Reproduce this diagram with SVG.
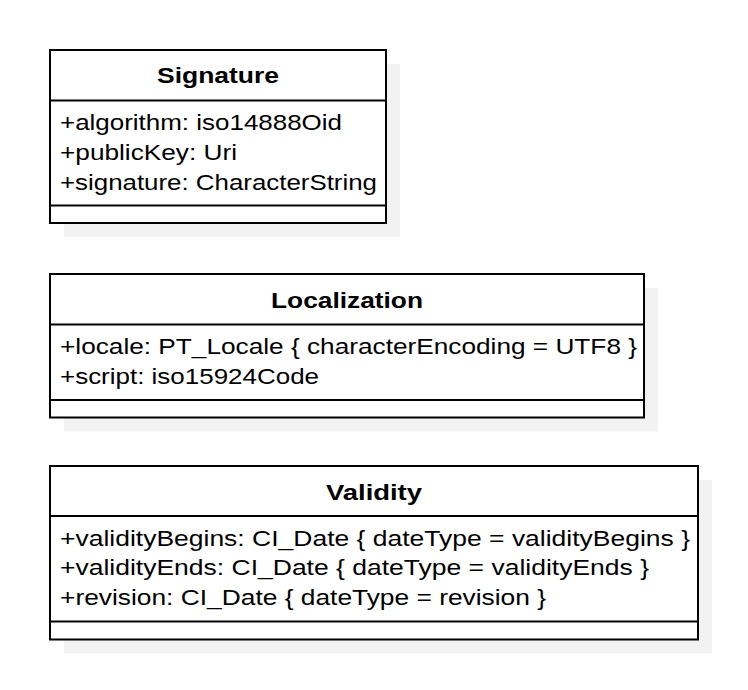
<svg xmlns="http://www.w3.org/2000/svg" width="748" height="690" viewBox="0 0 748 690">
<style>
.shadow{fill:#f2f2f2;stroke:none}
.box{fill:#ffffff;stroke:#000000;stroke-width:2}
.div{stroke:#000000;stroke-width:2;fill:none}
.title{font-family:"Liberation Sans",Arial,sans-serif;font-size:22px;font-weight:bold;fill:#000000;text-anchor:middle}
.attr{font-family:"Liberation Sans",Arial,sans-serif;font-size:22px;fill:#000000}
</style>
<rect width="748" height="690" fill="#ffffff"/>
<g id="connectors"/>
<g id="signature">
<rect class="shadow" x="64" y="64" width="336" height="173"/>
<rect class="box" x="50" y="50" width="336" height="173"/>
<line class="div" x1="50" y1="100.5" x2="386" y2="100.5"/>
<line class="div" x1="50" y1="205.5" x2="386" y2="205.5"/>
<text class="title" x="218" y="83" textLength="122" lengthAdjust="spacingAndGlyphs">Signature</text>
<text class="attr" x="60" y="130" textLength="282" lengthAdjust="spacingAndGlyphs">+algorithm: iso14888Oid</text>
<text class="attr" x="60" y="159.5" textLength="177" lengthAdjust="spacingAndGlyphs">+publicKey: Uri</text>
<text class="attr" x="60" y="189.5" textLength="317" lengthAdjust="spacingAndGlyphs">+signature: CharacterString</text>
</g>
<g id="localization">
<rect class="shadow" x="64" y="288" width="594" height="143.5"/>
<rect class="box" x="50" y="274" width="594" height="143.5"/>
<line class="div" x1="50" y1="324.5" x2="644" y2="324.5"/>
<line class="div" x1="50" y1="400" x2="644" y2="400"/>
<text class="title" x="347" y="307.5" textLength="152" lengthAdjust="spacingAndGlyphs">Localization</text>
<text class="attr" x="60" y="354" textLength="577" lengthAdjust="spacingAndGlyphs">+locale: PT_Locale { characterEncoding = UTF8 }</text>
<text class="attr" x="60" y="383.5" textLength="259" lengthAdjust="spacingAndGlyphs">+script: iso15924Code</text>
</g>
<g id="validity">
<rect class="shadow" x="64" y="480" width="648" height="173.5"/>
<rect class="box" x="50" y="466" width="648" height="173.5"/>
<line class="div" x1="50" y1="516" x2="698" y2="516"/>
<line class="div" x1="50" y1="621.5" x2="698" y2="621.5"/>
<text class="title" x="374" y="500" textLength="96" lengthAdjust="spacingAndGlyphs">Validity</text>
<text class="attr" x="60" y="545.5" textLength="630" lengthAdjust="spacingAndGlyphs">+validityBegins: CI_Date { dateType = validityBegins }</text>
<text class="attr" x="60" y="575" textLength="589" lengthAdjust="spacingAndGlyphs">+validityEnds: CI_Date { dateType = validityEnds }</text>
<text class="attr" x="60" y="604.5" textLength="486" lengthAdjust="spacingAndGlyphs">+revision: CI_Date { dateType = revision }</text>
</g>
</svg>
